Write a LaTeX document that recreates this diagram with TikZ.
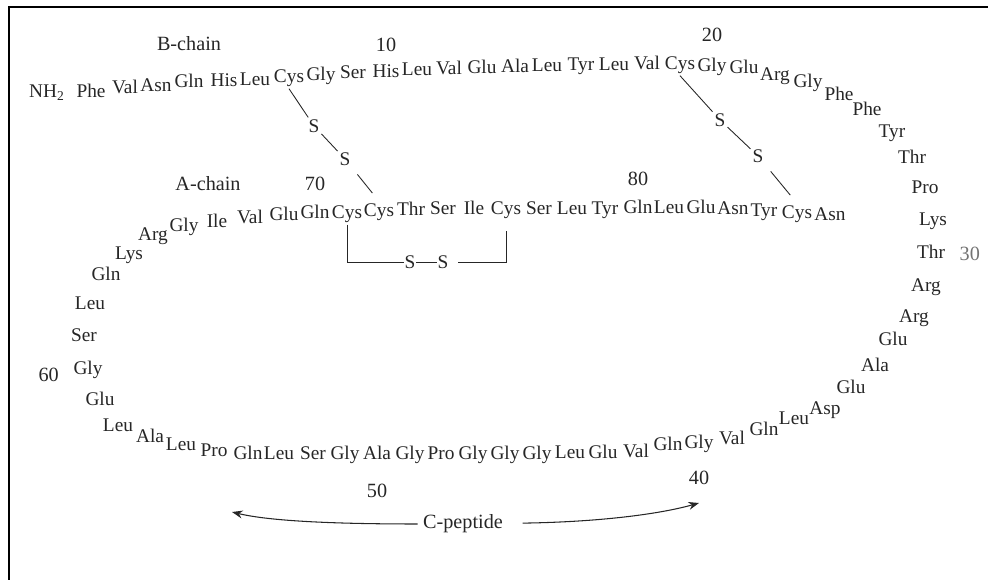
\documentclass[tikz,border=0pt]{standalone}
\usepackage{fontspec}
\setmainfont{Liberation Serif}
\usetikzlibrary{arrows.meta,positioning}

\tikzset{
  residue/.style={inner sep=1pt, text height=7.5pt, text depth=2.3pt, text=black!85, font=\fontsize{11}{13}\selectfont},
  tag/.style={inner sep=1pt, text=black!85, font=\fontsize{11.5}{13}\selectfont},
  sulfur/.style={inner sep=1pt, text=black!85, font=\fontsize{11}{13}\selectfont},
  bond/.style={draw=black!85, line width=0.5pt, shorten <=5pt, shorten >=6pt},
  pointer/.style={draw=black!85, line width=0.6pt, -{Stealth[length=6pt,width=4.5pt]}},
}

\begin{document}
\begin{tikzpicture}[x=0.02cm, y=-0.02cm]
\useasboundingbox (0,0) rectangle (988,580);
\draw[line width=1.2pt] (9,580) -- (9,7) -- (988,7);

% B-chain
\node[residue] (nh2) at (47,93) {NH\textsubscript{2}};
\node[residue] (r1) at (91,93) {Phe};
\node[residue] (r2) at (125,89) {Val};
\node[residue] (r3) at (156,87) {Asn};
\node[residue] (r4) at (189,83) {Gln};
\node[residue] (r5) at (224,82) {His};
\node[residue] (r6) at (255,81) {Leu};
\node[residue] (r7) at (289,78) {Cys};
\node[residue] (r8) at (321,76) {Gly};
\node[residue] (r9) at (353,74) {Ser};
\node[residue] (r10) at (386,73) {His};
\node[residue] (r11) at (417,71) {Leu};
\node[residue] (r12) at (449,70) {Val};
\node[residue] (r13) at (482,69) {Glu};
\node[residue] (r14) at (515,68) {Ala};
\node[residue] (r15) at (547,67) {Leu};
\node[residue] (r16) at (581,66) {Tyr};
\node[residue] (r17) at (614,66) {Leu};
\node[residue] (r18) at (647,65) {Val};
\node[residue] (r19) at (680,65) {Cys};
\node[residue] (r20) at (712,67) {Gly};
\node[residue] (r21) at (744,69) {Glu};
\node[residue] (r22) at (775,76) {Arg};
\node[residue] (r23) at (808,83) {Gly};
\node[residue] (r24) at (839,96) {Phe};
\node[residue] (r25) at (867,111) {Phe};
\node[residue] (r26) at (892,133) {Tyr};
\node[residue] (r27) at (912,159) {Thr};
\node[residue] (r28) at (925,189) {Pro};
\node[residue] (r29) at (933,221) {Lys};
\node[residue] (r30) at (931,254) {Thr};

% C-peptide
\node[residue] (r31) at (926,287) {Arg};
\node[residue] (r32) at (914,318) {Arg};
\node[residue] (r33) at (893,341) {Glu};
\node[residue] (r34) at (875,367) {Ala};
\node[residue] (r35) at (851,389) {Glu};
\node[residue] (r36) at (825,410) {Asp};
\node[residue] (r37) at (794,420) {Leu};
\node[residue] (r38) at (764,431) {Gln};
\node[residue] (r39) at (732,440) {Val};
\node[residue] (r40) at (699,444) {Gly};
\node[residue] (r41) at (668,446) {Gln};
\node[residue] (r42) at (636,453) {Val};
\node[residue] (r43) at (603,454) {Glu};
\node[residue] (r44) at (570,454) {Leu};
\node[residue] (r45) at (537,455) {Gly};
\node[residue] (r46) at (505,455) {Gly};
\node[residue] (r47) at (473,455) {Gly};
\node[residue] (r48) at (441,455) {Pro};
\node[residue] (r49) at (410,455) {Gly};
\node[residue] (r50) at (377,455) {Ala};
\node[residue] (r51) at (345,455) {Gly};
\node[residue] (r52) at (313,455) {Ser};
\node[residue] (r53) at (279,455) {Leu};
\node[residue] (r54) at (248,455) {Gln};
\node[residue] (r55) at (214,452) {Pro};
\node[residue] (r56) at (181,446) {Leu};
\node[residue] (r57) at (150,438) {Ala};
\node[residue] (r58) at (118,427) {Leu};
\node[residue] (r59) at (100,401) {Glu};
\node[residue] (r60) at (88,370) {Gly};
\node[residue] (r61) at (84,337) {Ser};
\node[residue] (r62) at (90,305) {Leu};
\node[residue] (r63) at (106,276) {Gln};
\node[residue] (r64) at (129,255) {Lys};
\node[residue] (r65) at (153,236) {Arg};

% A-chain
\node[residue] (r66) at (184,227) {Gly};
\node[residue] (r67) at (217,223) {Ile};
\node[residue] (r68) at (250,219) {Val};
\node[residue] (r69) at (284,216) {Glu};
\node[residue] (r70) at (315,214) {Gln};
\node[residue] (r71) at (347,214) {Cys};
\node[residue] (r72) at (379,212) {Cys};
\node[residue] (r73) at (411,211) {Thr};
\node[residue] (r74) at (443,210) {Ser};
\node[residue] (r75) at (474,210) {Ile};
\node[residue] (r76) at (506,210) {Cys};
\node[residue] (r77) at (539,210) {Ser};
\node[residue] (r78) at (572,210) {Leu};
\node[residue] (r79) at (605,210) {Tyr};
\node[residue] (r80) at (638,209) {Gln};
\node[residue] (r81) at (669,209) {Leu};
\node[residue] (r82) at (701,209) {Glu};
\node[residue] (r83) at (733,210) {Asn};
\node[residue] (r84) at (764,212) {Tyr};
\node[residue] (r85) at (797,214) {Cys};
\node[residue] (r86) at (830,216) {Asn};

% numbers and labels
\node[tag] (n10) [above=5pt of r10] {10};
\node[tag] (n20) [above=7pt of r20] {20};
\node[tag, text=black!55] (n30) [right=6pt of r30] {30};
\node[tag] (n40) [below=8pt of r40] {40};
\node[tag] (n50) [below=9pt of r50] {50};
\node[tag] (n60) [left=6pt of r60, yshift=-3pt] {60};
\node[tag] (n70) [above=6pt of r70] {70};
\node[tag] (n80) [above=6pt of r80] {80};
\node[tag] (bchain) [above=11pt of r4] {B-chain};
\node[tag] (achain) at (208,184) {A-chain};
\node[tag, inner sep=3pt] (cpep) at (463,524) {C-peptide};

% disulfide bridges
\node[sulfur] (s1) at (314,126) {S};
\node[sulfur] (s2) at (345,159) {S};
\node[sulfur] (s3) at (720,120) {S};
\node[sulfur] (s4) at (758,156) {S};
\node[sulfur, inner sep=0.3pt] (s5) at (410,262) {S};
\node[sulfur, inner sep=0.3pt] (s6) at (443,262) {S};

\draw[bond] (r7.south) -- (s1) -- (s2) -- (r72.north);
\draw[bond] (r19.south) -- (s3) -- (s4) -- (r85.north);
\draw[bond] (r71) |- (s5) -- (s6) -| (r76);

% C-peptide arrows
\coordinate (cleft) at (232,512);
\coordinate (cright) at (699,503);
\draw[pointer] (cpep) .. controls (320,524) and (265,520) .. (cleft);
\draw[pointer, shorten <=8pt] (cpep) .. controls (600,522) and (660,514) .. (cright);
\end{tikzpicture}
\end{document}
